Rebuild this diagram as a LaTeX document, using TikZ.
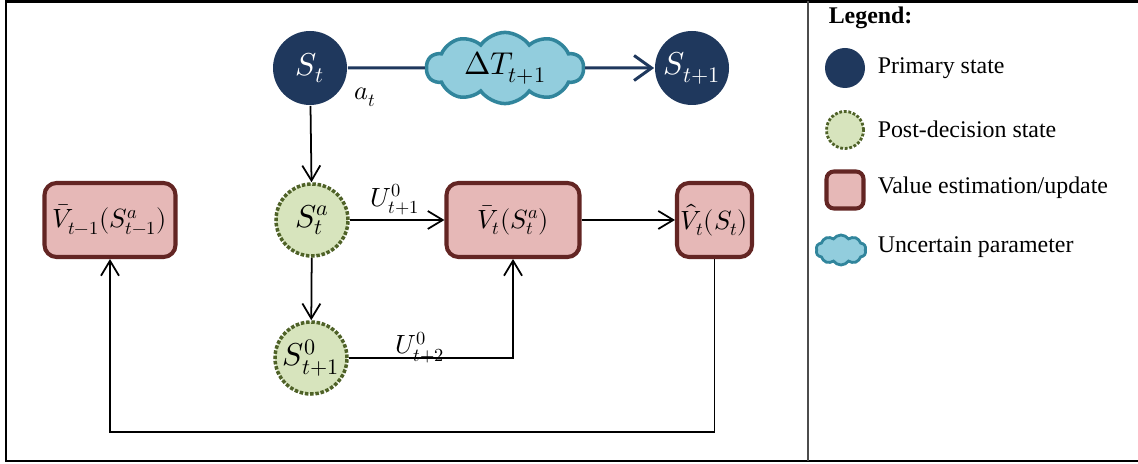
\documentclass[tikz,border=0pt]{standalone}
\usepackage{amsmath}
\usepackage{fontspec}
\usepackage{unicode-math}
\setmainfont{Liberation Serif}
\setmathfont{Latin Modern Math}
\usepackage{tikz}
\usetikzlibrary{positioning,shapes.symbols,arrows.meta}
\definecolor{primblue}{RGB}{31,56,93}
\definecolor{cloudfill}{RGB}{146,205,221}
\definecolor{cloudline}{RGB}{49,133,156}
\definecolor{postfill}{RGB}{215,228,189}
\definecolor{postline}{RGB}{79,98,40}
\definecolor{valfill}{RGB}{230,184,183}
\definecolor{valline}{RGB}{99,37,35}

\begin{document}
\begin{tikzpicture}[
>={Straight Barb[length=3mm,width=3.6mm]}, line width=1pt,
primnode/.style = {circle, fill=primblue, text=white, minimum size=1.48cm, inner sep=0pt, font=\fontsize{18}{20}\selectfont},
postnode/.style = {circle, draw=postline, fill=postfill, densely dotted, line width=2pt, minimum size=1.44cm, inner sep=0pt, font=\fontsize{18}{20}\selectfont},
valnode/.style = {rectangle, rounded corners=2.4mm, draw=valline, fill=valfill, line width=2.3pt, minimum height=1.48cm, inner sep=2pt, font=\fontsize{15}{17}\selectfont},
cloudnode/.style = {cloud, cloud puffs=10, cloud puff arc=110, aspect=2.1, draw=cloudline, fill=cloudfill, line width=2pt, inner sep=0pt, font=\fontsize{18}{20}\selectfont},
legtext/.style = {anchor=west, font=\fontsize{13.6}{16}\selectfont}]
\tikzstyle{every node}=[font=\fontsize{15}{17}\selectfont]
\useasboundingbox (0,0) rectangle (22.76,-9.28);
% frame and divider
\draw[line width=1.7pt] (22.8,-0.03) -- (0.12,-0.03) -- (0.12,-9.22) -- (22.8,-9.22);
\draw[line width=1pt, black!70] (16.16,-0.03) -- (16.16,-9.22);
% states
\node[primnode] (1) at (6.2,-1.36) {$S_t$};
\node[cloudnode, minimum width=3.14cm, minimum height=1.34cm] (2) at (10.1,-1.36) {$\Delta T_{t+1}$};
\node[primnode] (3) at (13.84,-1.36) {$S_{t+1}$};
\node (4) at (7.3,-1.95) {$a_t$};
\node[postnode] (5) at (6.24,-4.4) {$S_t^a$};
\node[postnode] (6) at (6.22,-7.16) {$S_{t+1}^0$};
\node[valnode, minimum width=2.62cm] (7) at (2.2,-4.4) {$\bar V_{t-1}(S_{t-1}^a)$};
\node[valnode, minimum width=2.66cm] (8) at (10.26,-4.4) {$\bar V_t(S_t^a)$};
\node[valnode, minimum width=1.5cm] (9) at (14.29,-4.4) {$\hat V_t(S_t)$};
\node (10) at (7.9,-4.0) {$U_{t+1}^0$};
\node (11) at (8.4,-6.95) {$U_{t+2}^0$};
\coordinate (12) at (14.29,-8.64);
\draw[primblue, line width=1.7pt] (1) -- (2);
\draw[primblue, line width=1.7pt, -{Straight Barb[length=3.5mm,width=5mm]}] (2) -- (3);
\draw[->] (1) -- (5);
\draw[->] (5) -- (6);
\draw[->] (5) -- (8);
\draw[->] (6) -| (8);
\draw[->] (8) -- (9);
\draw[->] (9.south) |- (12) -| (7.south);
% legend
\node[anchor=west, font=\fontsize{13.6}{16}\selectfont\bfseries] (13) at (16.44,-0.36) {Legend:};
\node[primnode, minimum size=0.8cm] (14) at (16.9,-1.36) {};
\node[legtext] (15) at (17.42,-1.36) {Primary state};
\node[postnode, minimum size=0.74cm, line width=1.6pt] (16) at (16.9,-2.6) {};
\node[legtext] (17) at (17.42,-2.58) {Post-decision state};
\node[valnode, minimum width=0.74cm, minimum height=0.74cm, rounded corners=1.5mm] (18) at (16.9,-3.8) {};
\node[legtext] (19) at (17.42,-3.76) {Value estimation/update};
\node[cloudnode, minimum width=1.0cm, minimum height=0.6cm, line width=1.6pt] (20) at (16.82,-5.0) {};
\node[legtext] (21) at (17.42,-4.94) {Uncertain parameter};
\end{tikzpicture}
\end{document}
